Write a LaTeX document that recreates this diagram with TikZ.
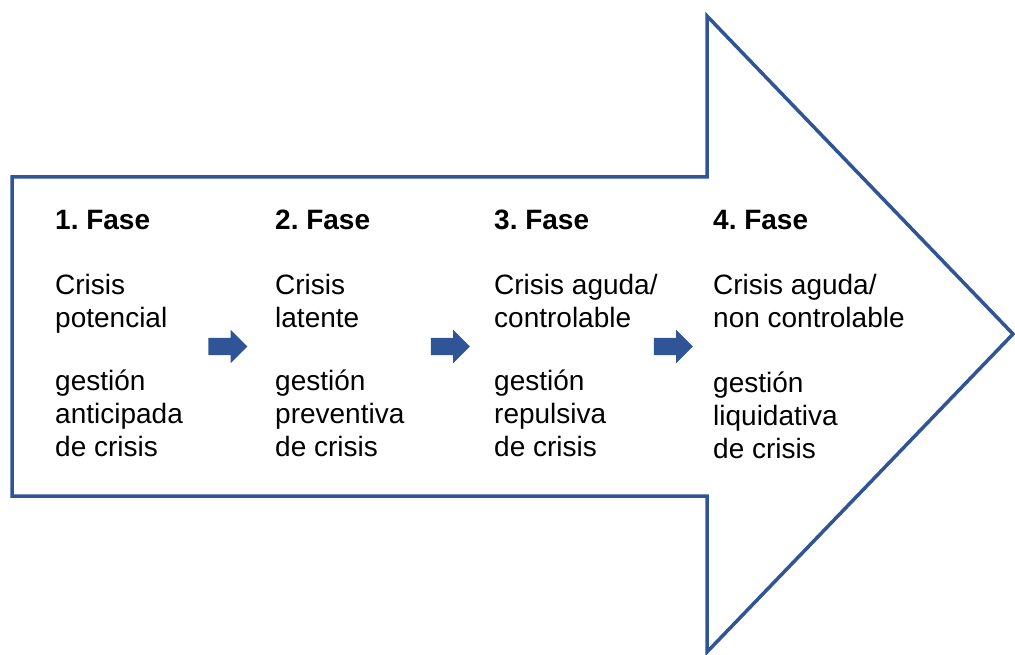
\documentclass[tikz,border=0pt]{standalone}
\usepackage{fontspec}
\setmainfont{Liberation Sans}
\frenchspacing
\usetikzlibrary{shapes.arrows}
\definecolor{fasblue}{HTML}{2F5597}
\tikzset{
  phase/.style={anchor=base west, inner sep=0pt, align=left,
    font=\fontsize{28}{32.7}\selectfont},
  step arrow/.style={single arrow, fill=fasblue, draw=none, inner sep=0pt,
    text height=17pt, text depth=0pt, minimum height=39pt,
    single arrow head extend=8pt, single arrow head indent=0pt}
}
\begin{document}
\begin{tikzpicture}[x=1pt,y=-1pt]
    \useasboundingbox (0,0) rectangle (1015,655);

    % The big arrow
    \draw[fasblue, line width=3.5pt, line join=miter]
        (12,177) -- (707,177) -- (707,16) -- (1013,334) -- (707,652)
        -- (707,496) -- (12,496) -- cycle;

    % Headings
    \node[phase] (f1) at (55,230)  {\textbf{1. Fase}};
    \node[phase] (f2) at (275,230) {\textbf{2. Fase}};
    \node[phase] (f3) at (494,230) {\textbf{3. Fase}};
    \node[phase] (f4) at (713,230) {\textbf{4. Fase}};

    % Kind of crisis (base = last line)
    \node[phase] (c1) at (55,327)  {Crisis\\potencial};
    \node[phase] (c2) at (275,327) {Crisis\\latente};
    \node[phase] (c3) at (494,327) {Crisis aguda/\\controlable};
    \node[phase] (c4) at (713,327) {Crisis aguda/\\non controlable};

    % Kind of management
    \node[phase] (g1) at (55,456)  {gestión\\anticipada\\de crisis};
    \node[phase] (g2) at (275,456) {gestión\\preventiva\\de crisis};
    \node[phase] (g3) at (494,456) {gestión\\repulsiva\\de crisis};
    \node[phase] (g4) at (713,458) {gestión\\liquidativa\\de crisis};

    % Small arrows between the phases
    \node[step arrow] (a1) at (223.5,346.5) {};
    \node[step arrow] (a2) at (446,346.5) {};
    \node[step arrow] (a3) at (669,346.5) {};

\end{tikzpicture}
\end{document}
